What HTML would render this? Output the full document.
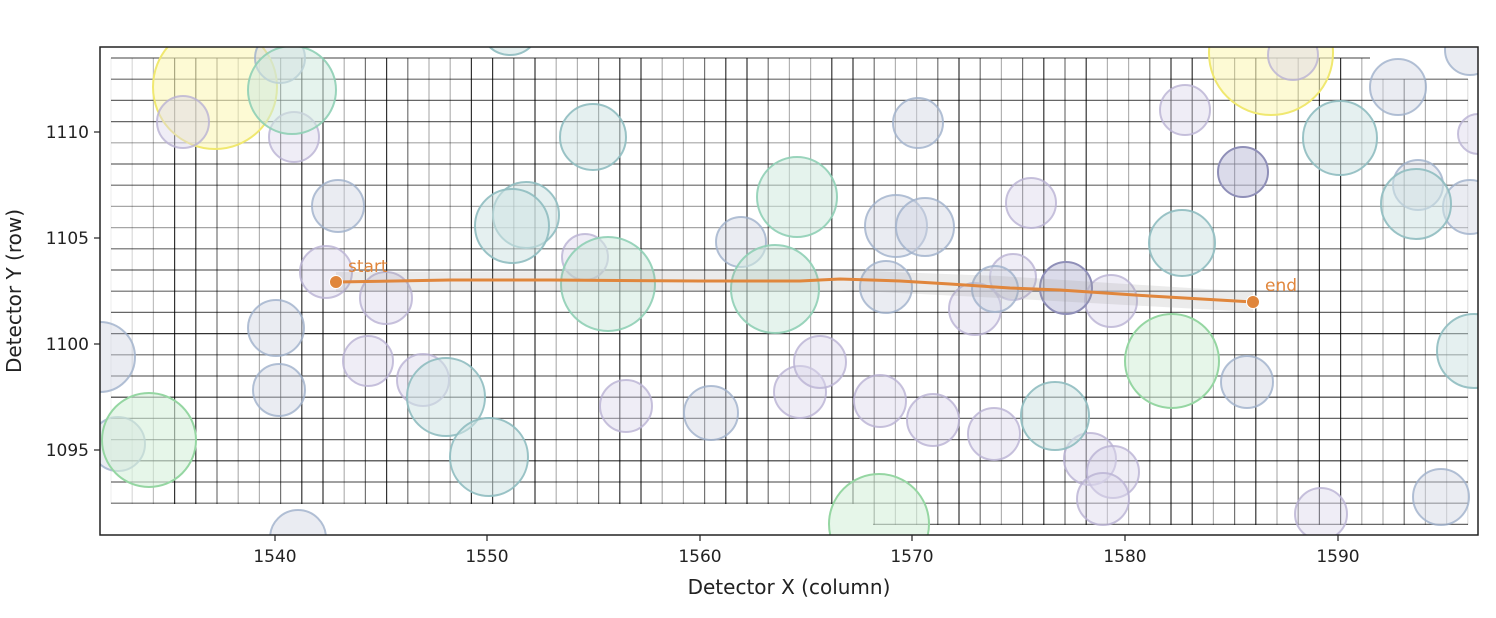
<!DOCTYPE html>
<html><head><meta charset="utf-8"><style>
html,body{margin:0;padding:0;background:#fff;}
svg{display:block;font-family:"DejaVu Sans","Liberation Sans",sans-serif;}
</style></head><body>
<svg width="1496" height="618" viewBox="0 0 1496 618" xmlns="http://www.w3.org/2000/svg">
<defs><clipPath id="c"><rect x="100" y="47" width="1378" height="488"/></clipPath></defs>
<rect width="1496" height="618" fill="#fff"/>
<g clip-path="url(#c)">
<g fill="none" stroke="#000" stroke-width="1.2">
<path stroke-opacity="0.06" d="M111 58V504"/>
<path stroke-opacity="0.15" d="M132.2 58V504"/>
<path stroke-opacity="0.25" d="M153.4 58V504"/>
<path stroke-opacity="0.2" d="M1446.6 79V525"/>
<path stroke-opacity="0.12" d="M1467.8 79V525"/>
<path stroke-opacity="0.8" d="M174.6 58V504M195.8 58V504M301.8 58V504M323 58V504M386.6 58V504M471.4 58V504M492.6 58V504M535 58V504M619.8 58V504M641 58V504M725.8 58V504M747 58V504M831.8 58V504M853 58V504M959 58V525M1043.8 58V525M1086.2 58V525M1171 58V525M1192.2 58V525M1255.8 58V525M1319.4 58V525M1340.6 58V525"/>
<path stroke-opacity="0.55" d="M217 58V504M280.6 58V504M365.4 58V504M407.8 58V504M513.8 58V504M598.6 58V504M704.6 58V504M768.2 58V504M874.2 58V525M937.8 58V525M980.2 58V525M1022.6 58V525M1065 58V525M1149.8 58V525M1234.6 58V525M1298.2 58V525M1404.2 79V525"/>
<path stroke-opacity="0.3" d="M238.2 58V504M259.4 58V504M344.2 58V504M429 58V504M450.2 58V504M556.2 58V504M577.4 58V504M662.2 58V504M683.4 58V504M789.4 58V504M810.6 58V504M895.4 58V525M916.6 58V525M1001.4 58V525M1107.4 58V525M1128.6 58V525M1213.4 58V525M1277 58V525M1361.8 58V525M1383 79V525M1425.4 79V525"/>
<path stroke-opacity="0.6" d="M111 58H1370M111 79.2H1468M111 100.4H1468M111 121.6H1468M111 164H1468M111 185.2H1468M111 248.8H1468M111 270H1468M111 291.2H1468M111 312.4H1468M111 354.8H1468M111 376H1468M111 418.4H1468M111 439.6H1468M111 482H1468M111 503.2H1468M873 524.4H1468"/>
<path stroke-opacity="0.35" d="M111 142.8H1468M111 206.4H1468M111 227.6H1468"/>
<path stroke-opacity="0.8" d="M111 333.6H1468M111 397.2H1468M111 460.8H1468"/>
</g>
<g stroke-width="2">
<circle cx="215" cy="87" r="62" fill="#fbf6b8" fill-opacity="0.6" stroke="#f0e870"/>
<circle cx="1271" cy="53" r="62" fill="#fbf6b8" fill-opacity="0.6" stroke="#f0e870"/>
<g fill="#dcd8ea" fill-opacity="0.45" stroke="#b9b2d3" stroke-opacity="0.8">
<circle cx="183" cy="122" r="26"/><circle cx="326" cy="272" r="26"/><circle cx="585" cy="257" r="23"/>
<circle cx="1031" cy="203" r="25"/><circle cx="975" cy="309" r="26"/><circle cx="1013" cy="277" r="23"/>
<circle cx="1111" cy="301" r="26"/><circle cx="1185" cy="110" r="25"/><circle cx="1293" cy="55" r="25"/>
<circle cx="1478" cy="134" r="20"/><circle cx="368" cy="361" r="25"/><circle cx="423" cy="380" r="26"/>
<circle cx="626" cy="406" r="26"/><circle cx="800" cy="392" r="26"/><circle cx="820" cy="362" r="26"/>
<circle cx="880" cy="401" r="26"/><circle cx="933" cy="420" r="26"/><circle cx="994" cy="434" r="26"/>
<circle cx="1090" cy="459" r="26"/><circle cx="1113" cy="472" r="26"/><circle cx="1103" cy="499" r="26"/>
<circle cx="1321" cy="514" r="26"/><circle cx="294" cy="137" r="25"/><circle cx="386" cy="298" r="26"/>
</g>
<g fill="#d0d5e3" fill-opacity="0.45" stroke="#9fb0ca" stroke-opacity="0.8">
<circle cx="280" cy="58" r="25"/><circle cx="338" cy="206" r="26"/><circle cx="741" cy="242" r="25"/>
<circle cx="918" cy="123" r="25"/><circle cx="896" cy="226" r="31"/><circle cx="925" cy="227" r="29"/>
<circle cx="886" cy="287" r="26"/><circle cx="995" cy="289" r="23"/><circle cx="1398" cy="87" r="28"/>
<circle cx="1418" cy="185" r="25"/><circle cx="1470" cy="207" r="27"/><circle cx="1470" cy="50" r="25"/>
<circle cx="118" cy="444" r="27"/><circle cx="276" cy="328" r="28"/><circle cx="279" cy="390" r="26"/>
<circle cx="711" cy="413" r="27"/><circle cx="1247" cy="382" r="26"/><circle cx="298" cy="538" r="28"/>
<circle cx="1441" cy="497" r="28"/><circle cx="100" cy="357" r="35"/>
</g>
<g fill="#c3c3dc" fill-opacity="0.6" stroke="#8f8fb8">
<circle cx="1066" cy="288" r="26"/><circle cx="1243" cy="172" r="25"/>
</g>
<g fill="#cfe3e4" fill-opacity="0.55" stroke="#8fbcc0" stroke-opacity="0.9">
<circle cx="593" cy="137" r="33"/><circle cx="526" cy="215" r="33"/><circle cx="510" cy="25" r="30"/>
<circle cx="1340" cy="138" r="37"/><circle cx="1416" cy="204" r="35"/><circle cx="1182" cy="243" r="33"/>
<circle cx="446" cy="397" r="39"/><circle cx="489" cy="457" r="39"/><circle cx="1055" cy="416" r="34"/>
<circle cx="1474" cy="351" r="37"/><circle cx="512" cy="226" r="37"/>
</g>
<g fill="#cfe9df" fill-opacity="0.55" stroke="#8fcfb5" stroke-opacity="0.9">
<circle cx="292" cy="90" r="44"/><circle cx="608" cy="284" r="47"/><circle cx="775" cy="289" r="44"/>
<circle cx="797" cy="197" r="40"/>
</g>
<g fill="#d6f0da" fill-opacity="0.6" stroke="#95d6a2">
<circle cx="149" cy="440" r="47"/><circle cx="1172" cy="361" r="47"/><circle cx="879" cy="524" r="50"/>
</g>
</g>
<polygon points="336,272 840,270 1000,276 1253,292 1253,312 1000,298 840,290 336,292" fill="#9a9a9a" fill-opacity="0.2"/>
<polyline points="336,282 450,280 550,280 700,281 800,281 840,279 900,281 950,284 1010,288 1060,290 1150,296 1253,302" fill="none" stroke="#e0863c" stroke-width="3"/>
<circle cx="336" cy="282" r="6.5" fill="#e0863c" stroke="#fff" stroke-width="1"/>
<circle cx="1253" cy="302" r="6.5" fill="#e0863c" stroke="#fff" stroke-width="1"/>
<text x="348" y="272" font-size="17" fill="#e0863c">start</text>
<text x="1265" y="291" font-size="17" fill="#e0863c">end</text>
</g>
<rect x="100" y="47" width="1378" height="488" fill="none" stroke="#222" stroke-width="1.5"/>
<g stroke="#222" stroke-width="1.2">
<line x1="275" y1="535" x2="275" y2="541"/><line x1="487" y1="535" x2="487" y2="541"/>
<line x1="700" y1="535" x2="700" y2="541"/><line x1="912" y1="535" x2="912" y2="541"/>
<line x1="1125" y1="535" x2="1125" y2="541"/><line x1="1338" y1="535" x2="1338" y2="541"/>
<line x1="94" y1="132" x2="100" y2="132"/><line x1="94" y1="238" x2="100" y2="238"/>
<line x1="94" y1="344" x2="100" y2="344"/><line x1="94" y1="450" x2="100" y2="450"/>
</g>
<g font-size="17" fill="#222" text-anchor="middle">
<text x="275" y="562">1540</text><text x="487" y="562">1550</text><text x="700" y="562">1560</text>
<text x="912" y="562">1570</text><text x="1125" y="562">1580</text><text x="1338" y="562">1590</text>
</g>
<g font-size="17" fill="#222" text-anchor="end">
<text x="89" y="138">1110</text><text x="89" y="244">1105</text><text x="89" y="350">1100</text><text x="89" y="456">1095</text>
</g>
<text x="789" y="594" font-size="20" fill="#222" text-anchor="middle">Detector X (column)</text>
<text transform="translate(21,291) rotate(-90)" font-size="20" fill="#222" text-anchor="middle">Detector Y (row)</text>
</svg>
</body></html>
